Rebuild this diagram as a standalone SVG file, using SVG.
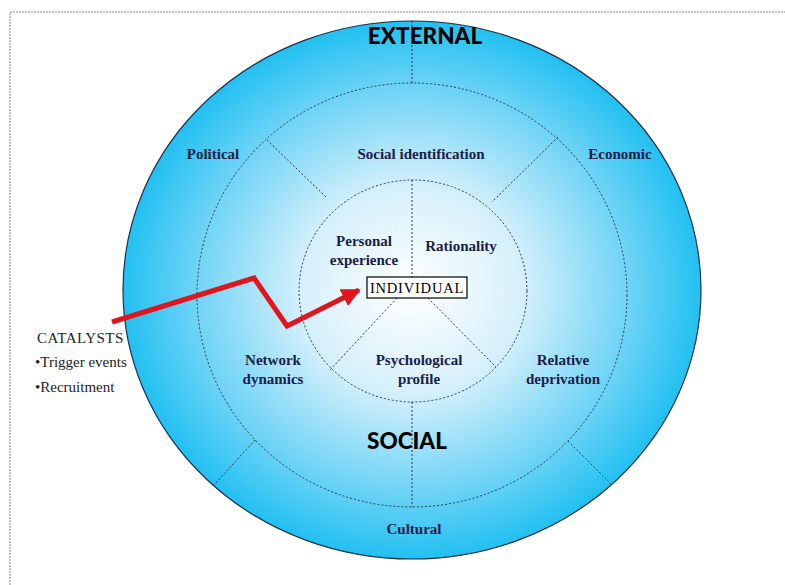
<svg xmlns="http://www.w3.org/2000/svg" width="785" height="585" viewBox="0 0 785 585">
<style>
.div{stroke:#2a3a55;stroke-width:1;stroke-dasharray:2 2;fill:none}
.ring{stroke:#2a3a55;stroke-width:1;stroke-dasharray:2 2;fill:none}
.lab{font-family:"Liberation Serif",serif;font-weight:bold;font-size:15px;fill:#1a2048;text-anchor:middle}
.big{font-family:Lato,"Open Sans",sans-serif;font-weight:900;font-size:22.5px;fill:#000;text-anchor:middle}
.cat{font-family:"Liberation Serif",serif;font-size:15px;fill:#222}
</style>
<defs>
<radialGradient id="g" cx="412" cy="290" r="289" gradientUnits="userSpaceOnUse" gradientTransform="translate(412 290) scale(1 0.93) translate(-412 -290)">
<stop offset="0" stop-color="#ffffff"/>
<stop offset="0.38" stop-color="#d6f0fb"/>
<stop offset="0.74" stop-color="#72d4f6"/>
<stop offset="1" stop-color="#22c0f1"/>
</radialGradient>
<marker id="ah" viewBox="0 0 10 10" refX="9" refY="5" markerWidth="3.8" markerHeight="3.8" orient="auto" markerUnits="strokeWidth">
<path d="M0,0 L10,5 L0,10 z" fill="#e0161e"/>
</marker>
</defs>
<rect x="10" y="12" width="790" height="590" fill="none" stroke="#888" stroke-width="1" stroke-dasharray="2 1"/>
<g id="outer">
<ellipse cx="412" cy="290" rx="289" ry="269" fill="url(#g)" stroke="#1d3047" stroke-width="1.2"/>
</g>
<g id="rings">
<ellipse class="ring" cx="412" cy="295" rx="215" ry="212"/>
<ellipse class="ring" cx="413" cy="291" rx="114" ry="111"/>
</g>
<g id="connectors">
<line class="div" x1="412" y1="21" x2="412" y2="83"/>
<line class="div" x1="255" y1="440" x2="214" y2="485"/>
<line class="div" x1="568" y1="441" x2="611" y2="484"/>
<line class="div" x1="267" y1="140" x2="327" y2="198"/>
<line class="div" x1="558" y1="137" x2="492" y2="202"/>
<line class="div" x1="412" y1="402" x2="412" y2="507"/>
<line class="div" x1="412" y1="180" x2="412" y2="277"/>
<line class="div" x1="397" y1="298" x2="330" y2="370"/>
<line class="div" x1="428" y1="298" x2="496" y2="367"/>
<polyline points="112,322 254,278 287,326 359,290" fill="none" stroke="#e0161e" stroke-width="5" stroke-linejoin="miter" marker-end="url(#ah)"/>
</g>
<g id="external"><text class="big" x="425" y="44">EXTERNAL</text></g>
<g id="social"><text class="big" x="407" y="449">SOCIAL</text></g>
<g id="political"><text class="lab" x="213" y="159">Political</text></g>
<g id="social-identification"><text class="lab" x="421" y="159">Social identification</text></g>
<g id="economic"><text class="lab" x="620" y="159">Economic</text></g>
<g id="personal-experience"><text class="lab" x="364" y="246">Personal</text><text class="lab" x="364" y="265">experience</text></g>
<g id="rationality"><text class="lab" x="461" y="251">Rationality</text></g>
<g id="individual"><rect x="367" y="277" width="100" height="21" fill="#fff" stroke="#000" stroke-width="1.2"/><text x="417" y="293" font-family="'Liberation Serif',serif" font-size="14.5" text-anchor="middle" letter-spacing="0.8">INDIVIDUAL</text></g>
<g id="network-dynamics"><text class="lab" x="273" y="365">Network</text><text class="lab" x="273" y="384">dynamics</text></g>
<g id="psychological-profile"><text class="lab" x="419" y="365">Psychological</text><text class="lab" x="419" y="384">profile</text></g>
<g id="relative-deprivation"><text class="lab" x="563" y="365">Relative</text><text class="lab" x="563" y="384">deprivation</text></g>
<g id="cultural"><text class="lab" x="414" y="534">Cultural</text></g>
<g id="catalysts">
<text class="cat" x="37" y="343" font-size="16" letter-spacing="0.5">CATALYSTS</text>
<text class="cat" x="35" y="367">•Trigger events</text>
<text class="cat" x="35" y="392">•Recruitment</text>
</g>
</svg>
